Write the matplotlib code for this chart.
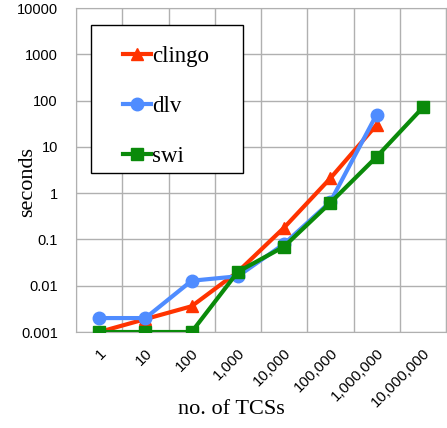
import numpy as np
import matplotlib.pyplot as plt
from matplotlib.ticker import FixedLocator, NullLocator
from matplotlib.patches import Rectangle

# дані
categories = ["1", "10", "100", "1,000", "10,000", "100,000", "1,000,000", "10,000,000"]
clingo = [0.001, 0.0019, 0.0036, 0.02, 0.18, 2.1, 30, None]
dlv = [0.002, 0.002, 0.0128, 0.016, 0.08, 0.65, 50, None]
swi = [0.001, 0.001, 0.001, 0.02, 0.07, 0.62, 6.1, 71]
y_ticks = [0.001, 0.01, 0.1, 1, 10, 100, 1000, 10000]
y_labels = ["0.001", "0.01", "0.1", "1", "10", "100", "1000", "10000"]

serif = "Liberation Serif"
sans = "Liberation Sans"

fig = plt.figure(figsize=(4.47, 4.28), dpi=100)
ax = fig.add_axes([76 / 447, (428 - 332) / 428, 370 / 447, 324 / 428])

x = np.arange(len(categories))


def clean(vals):
    return np.array([np.nan if v is None else v for v in vals], dtype=float)


ax.plot(x, clean(clingo), color="#ff3300", lw=3, marker="^", ms=9, label="clingo", zorder=3)
ax.plot(x, clean(dlv), color="#4f8cff", lw=3, marker="o", ms=9, label="dlv", zorder=4)
ax.plot(x, clean(swi), color="#0a8a0a", lw=3, marker="s", ms=9, label="swi", zorder=5)

ax.set_yscale("log")
ax.set_ylim(0.001, 10000)
ax.set_xlim(-0.5, len(categories) - 0.5)
ax.yaxis.set_major_locator(FixedLocator(y_ticks))
ax.yaxis.set_minor_locator(NullLocator())
ax.set_yticklabels(y_labels, fontsize=10.5, family=sans)

ax.set_xticks(x)
ax.set_xticklabels(categories, rotation=45, ha="right", rotation_mode="anchor",
                   fontsize=11, family=sans)
ax.set_xticks(np.arange(len(categories) + 1) - 0.5, minor=True)

ax.tick_params(which="both", length=0)
ax.tick_params(axis="y", pad=13)
ax.tick_params(axis="x", pad=10)
ax.grid(False)
ax.grid(True, which="minor", axis="x", color="#b0b0b0", lw=1)
ax.grid(True, which="major", axis="y", color="#b0b0b0", lw=1)
for s in ax.spines.values():
    s.set_color("#b0b0b0")

ax.set_ylabel("seconds", family=serif, fontsize=16)
ax.yaxis.set_label_coords(-0.132, 0.463)
ax.yaxis.label.set_va("center")
ax.set_xlabel("no. of TCSs", family=serif, fontsize=16)
ax.xaxis.set_label_coords(0.42, -0.24)
ax.xaxis.label.set_va("center")

# рамка легенди окремо, щоб відступи були як в оригіналі
box = Rectangle((0.04, 0.491), 0.41, 0.457, transform=ax.transAxes,
                facecolor="white", edgecolor="black", lw=1, zorder=6)
ax.add_patch(box)
leg = ax.legend(loc="upper left", bbox_to_anchor=(0.128, 0.882), prop={"family": serif, "size": 16.5},
                frameon=False, borderpad=0, labelspacing=1.26,
                handlelength=1.2, handletextpad=0.05, borderaxespad=0)
leg.set_zorder(7)

fig.savefig("out.png", dpi=100)
